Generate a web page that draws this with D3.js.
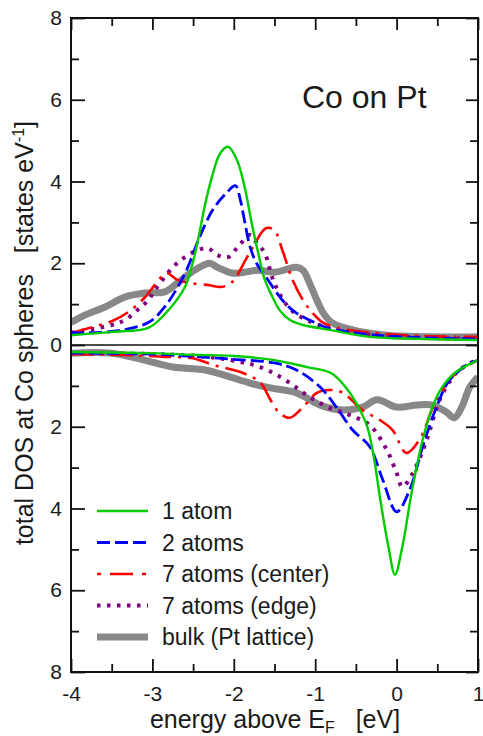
<!DOCTYPE html>
<html>
<head>
<meta charset="utf-8">
<script src="https://cdn.jsdelivr.net/npm/d3@7"></script>
<style>
  body { margin: 0; background: #fff; }
  svg { display: block; }
  text { font-family: "Liberation Sans", Arial, sans-serif; fill: #1a1a1a; }
</style>
</head>
<body>
<div id="chart"></div>
<script>
// energy (eV) and DOS values; "up" = majority (above 0), "down" = minority (drawn below 0)
var oneAtomUp = [[-4,0.24],[-3.5,0.32],[-3.05,0.42],[-2.85,0.75],[-2.6,1.42],[-2.52,1.9],[-2.44,2.56],[-2.36,3.37],[-2.27,4.1],[-2.17,4.68],[-2.07,4.85],[-1.96,4.52],[-1.86,3.8],[-1.78,2.98],[-1.7,2.25],[-1.62,1.6],[-1.53,1.2],[-1.44,0.86],[-1.31,0.61],[-1.15,0.49],[-0.82,0.37],[-0.33,0.2],[0.3,0.15],[1,0.12]];
var oneAtomDown = [[-4,0.17],[-3,0.2],[-2.5,0.24],[-2,0.27],[-1.5,0.37],[-1.1,0.54],[-0.8,0.69],[-0.6,1.1],[-0.45,1.59],[-0.36,2.0],[-0.28,2.74],[-0.2,3.79],[-0.1,4.94],[-0.02,5.62],[0.07,4.94],[0.19,3.55],[0.32,2.32],[0.44,1.52],[0.56,1.03],[0.73,0.66],[1,0.37]];

var twoAtomsUp = [[-4,0.3],[-3.5,0.33],[-3.05,0.55],[-2.85,0.93],[-2.6,1.75],[-2.42,2.64],[-2.26,3.3],[-2.09,3.72],[-1.98,3.9],[-1.92,3.55],[-1.87,3.06],[-1.8,2.4],[-1.72,2.0],[-1.6,1.65],[-1.47,1.27],[-1.35,0.98],[-1.23,0.78],[-1.07,0.61],[-0.85,0.42],[-0.3,0.25],[0.3,0.18],[1,0.15]];
var twoAtomsDown = [[-4,0.2],[-3,0.22],[-2.5,0.28],[-2,0.35],[-1.5,0.44],[-1.23,0.61],[-0.94,1.03],[-0.74,1.52],[-0.54,2.08],[-0.33,2.49],[-0.17,3.3],[0,4.08],[0.16,3.55],[0.32,2.49],[0.49,1.52],[0.65,0.86],[0.9,0.44],[1,0.38]];

var sevenCenterUp = [[-4,0.3],[-3.75,0.43],[-3.5,0.58],[-3.3,0.8],[-3.1,1.15],[-2.95,1.52],[-2.83,1.76],[-2.7,1.6],[-2.55,1.52],[-2.32,1.47],[-2.15,1.42],[-2.02,1.54],[-1.85,2.1],[-1.78,2.35],[-1.6,2.86],[-1.5,2.8],[-1.4,2.3],[-1.28,1.6],[-1.15,1.1],[-1.03,0.78],[-0.9,0.54],[-0.73,0.42],[-0.3,0.3],[0.3,0.22],[1,0.2]];
var sevenCenterDown = [[-4,0.22],[-3.25,0.25],[-2.85,0.29],[-2.52,0.32],[-2.25,0.49],[-1.88,0.69],[-1.67,0.93],[-1.55,1.34],[-1.44,1.66],[-1.31,1.78],[-1.15,1.52],[-0.98,1.17],[-0.82,1.1],[-0.66,1.17],[-0.42,1.59],[-0.21,1.83],[-0.05,2.08],[0.12,2.64],[0.28,2.32],[0.49,1.34],[0.73,0.69],[1,0.37]];

var sevenEdgeUp = [[-4,0.3],[-3.5,0.49],[-3.34,0.61],[-3.18,0.86],[-3.05,1.1],[-2.97,1.34],[-2.85,1.66],[-2.72,1.96],[-2.6,2.15],[-2.44,2.32],[-2.32,2.37],[-2.2,2.2],[-2.07,2.15],[-1.95,2.4],[-1.8,2.69],[-1.72,2.5],[-1.62,2.25],[-1.53,1.66],[-1.46,1.34],[-1.37,1.03],[-1.25,0.78],[-1.1,0.61],[-0.85,0.42],[-0.3,0.25],[0.3,0.18],[1,0.15]];
var sevenEdgeDown = [[-4,0.2],[-3,0.22],[-2.6,0.25],[-2.2,0.32],[-1.9,0.42],[-1.75,0.49],[-1.55,0.65],[-1.31,0.93],[-1.07,1.27],[-0.82,1.54],[-0.58,1.71],[-0.33,1.96],[-0.12,2.57],[0,3.13],[0.07,3.47],[0.2,3.13],[0.37,2.32],[0.53,1.34],[0.73,0.69],[0.93,0.42],[1,0.38]];

var bulkUp = [[-4,0.55],[-3.83,0.73],[-3.58,0.93],[-3.34,1.17],[-3.09,1.27],[-2.85,1.3],[-2.69,1.52],[-2.52,1.78],[-2.3,2.0],[-2.2,1.9],[-2.02,1.76],[-1.87,1.78],[-1.7,1.83],[-1.5,1.78],[-1.35,1.85],[-1.23,1.9],[-1.15,1.83],[-1.07,1.52],[-0.98,1.1],[-0.9,0.78],[-0.79,0.54],[-0.54,0.37],[-0.12,0.24],[1,0.2]];
var bulkDown = [[-4,0.2],[-3.5,0.2],[-3.1,0.37],[-2.75,0.54],[-2.35,0.61],[-2.05,0.78],[-1.8,0.93],[-1.55,1.05],[-1.23,1.17],[-0.94,1.47],[-0.66,1.59],[-0.42,1.52],[-0.24,1.34],[0,1.52],[0.25,1.47],[0.44,1.47],[0.61,1.64],[0.71,1.78],[0.8,1.52],[0.9,1.03],[1,0.78]];

var seriesNames = ["1 atom", "2 atoms", "7 atoms (center)", "7 atoms (edge)", "bulk (Pt lattice)"];
var xTicks = [-4, -3, -2, -1, 0, 1];
var yTicks = [-8, -6, -4, -2, 0, 2, 4, 6, 8];

var W = 483, H = 736;
var plotL = 71, plotR = 478, plotT = 18, plotB = 672;

var svg = d3.select("#chart").append("svg").attr("width", W).attr("height", H);

var x = d3.scaleLinear().domain([-4, 1]).range([plotL, plotR]),
    y = d3.scaleLinear().domain([-8, 8]).range([plotB, plotT]);

var styles = [
  {color: "#00cc00", width: 2.4, dash: null},
  {color: "#0000ff", width: 2.8, dash: "13,5"},
  {color: "#ff0000", width: 2.6, dash: "22,7,3,7"},
  {color: "#800080", width: 4, dash: "3.5,6.5"},
  {color: "#888888", width: 7, dash: null}
];

var curves = [
  [oneAtomUp, oneAtomDown],
  [twoAtomsUp, twoAtomsDown],
  [sevenCenterUp, sevenCenterDown],
  [sevenEdgeUp, sevenEdgeDown],
  [bulkUp, bulkDown]
];

var lineUp = d3.line().curve(d3.curveCatmullRom.alpha(0.5))
    .x(function(d) { return x(d[0]); })
    .y(function(d) { return y(d[1]); });
var lineDown = d3.line().curve(d3.curveCatmullRom.alpha(0.5))
    .x(function(d) { return x(d[0]); })
    .y(function(d) { return y(-d[1]); });

svg.append("defs").append("clipPath").attr("id", "clip")
  .append("rect").attr("x", plotL).attr("y", plotT).attr("width", plotR - plotL).attr("height", plotB - plotT);

var plot = svg.append("g").attr("clip-path", "url(#clip)");

// bulk underneath, then the clusters
[4, 3, 2, 1, 0].forEach(function(i) {
  var s = styles[i];
  [lineUp, lineDown].forEach(function(ln, k) {
    plot.append("path")
        .datum(curves[i][k])
        .attr("d", ln)
        .attr("fill", "none")
        .attr("stroke", s.color)
        .attr("stroke-width", s.width)
        .attr("stroke-dasharray", s.dash)
        .attr("stroke-linejoin", "round");
  });
});

// zero line
svg.append("line")
    .attr("x1", plotL).attr("x2", plotR)
    .attr("y1", y(0)).attr("y2", y(0))
    .attr("stroke", "#111").attr("stroke-width", 1.6);

// axes, ticks pointing inwards
var minorX = d3.range(-3.5, 1, 1), minorY = d3.range(-7, 8, 2);

function styleAxis(g) {
  g.attr("font-family", null);
  g.select(".domain").remove();
  g.selectAll("line").attr("stroke", "#111").attr("stroke-width", 1.8);
  g.selectAll("text").style("font-size", "21px").attr("fill", "#1a1a1a");
}

svg.append("g").attr("transform", "translate(" + plotL + ",0)")
    .call(d3.axisLeft(y).tickValues(yTicks).tickSize(-14).tickPadding(9)
      .tickFormat(function(d) { return String(Math.abs(d)); }))
    .call(styleAxis);
svg.append("g").attr("transform", "translate(" + plotL + ",0)")
    .call(d3.axisLeft(y).tickValues(minorY).tickSize(-8).tickFormat(""))
    .call(styleAxis);
svg.append("g").attr("transform", "translate(" + plotR + ",0)")
    .call(d3.axisRight(y).tickValues(yTicks).tickSize(-12).tickFormat(""))
    .call(styleAxis);
svg.append("g").attr("transform", "translate(" + plotR + ",0)")
    .call(d3.axisRight(y).tickValues(minorY).tickSize(-8).tickFormat(""))
    .call(styleAxis);
svg.append("g").attr("transform", "translate(0," + plotB + ")")
    .call(d3.axisBottom(x).tickValues(xTicks).tickSize(-13).tickPadding(14)
      .tickFormat(function(d) { return String(d); }))
    .call(styleAxis);
svg.append("g").attr("transform", "translate(0," + plotB + ")")
    .call(d3.axisBottom(x).tickValues(minorX).tickSize(-8).tickFormat(""))
    .call(styleAxis);
svg.append("g").attr("transform", "translate(0," + plotT + ")")
    .call(d3.axisTop(x).tickValues(xTicks).tickSize(-12).tickFormat(""))
    .call(styleAxis);
svg.append("g").attr("transform", "translate(0," + plotT + ")")
    .call(d3.axisTop(x).tickValues(minorX).tickSize(-8).tickFormat(""))
    .call(styleAxis);

// frame
svg.append("rect")
    .attr("x", plotL).attr("y", plotT)
    .attr("width", plotR - plotL).attr("height", plotB - plotT)
    .attr("fill", "none").attr("stroke", "#111").attr("stroke-width", 2);

// axis titles
var xt = svg.append("text")
    .attr("x", 275).attr("y", 728)
    .attr("text-anchor", "middle")
    .style("font-size", "25px").style("white-space", "pre");
xt.append("tspan").text("energy above E");
xt.append("tspan").attr("dy", 5).style("font-size", "16px").text("F");
xt.append("tspan").attr("dy", -5).text("   [eV]");

var yt = svg.append("text")
    .attr("transform", "translate(33,333) rotate(-90)")
    .attr("text-anchor", "middle")
    .style("font-size", "25px").style("white-space", "pre");
yt.append("tspan").text("total DOS at Co spheres   [states eV");
yt.append("tspan").attr("dy", -9).style("font-size", "16px").text("-1");
yt.append("tspan").attr("dy", 9).text("]");

svg.append("text")
    .attr("x", 302).attr("y", 108)
    .style("font-size", "32px")
    .text("Co on Pt");

// legend
var legend = svg.append("g");
seriesNames.forEach(function(name, i) {
  var s = styles[i], yy = 519 + i * 31.5;
  legend.append("line")
      .attr("x1", 97).attr("x2", 148)
      .attr("y1", yy - 8).attr("y2", yy - 8)
      .attr("stroke", s.color)
      .attr("stroke-width", i === 4 ? 7 : s.width)
      .attr("stroke-dasharray", i === 2 ? "4,9,23,9" : s.dash);
  legend.append("text")
      .attr("x", 162).attr("y", yy)
      .style("font-size", "23px")
      .text(name);
});
</script>
</body>
</html>
